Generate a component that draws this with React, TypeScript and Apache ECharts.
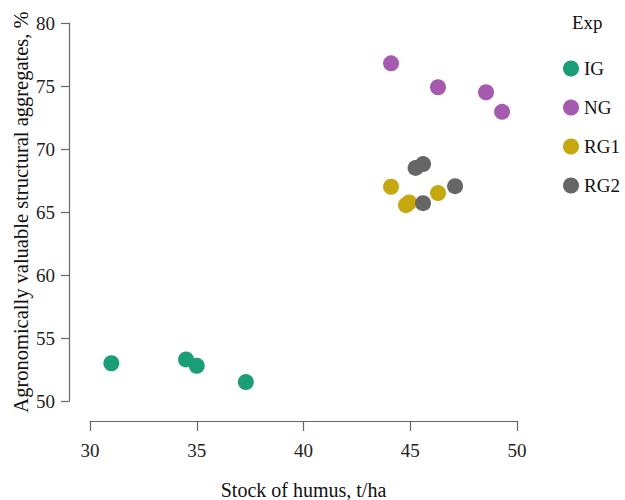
import React, { useEffect, useRef } from "react";
import * as echarts from "echarts";

const groups = ["IG", "NG", "RG1", "RG2"];
const colors = ["#1b9e77", "#a65aaf", "#c4a80d", "#666666"];
const igPoints = [[31.0, 53.0], [34.5, 53.3], [35.0, 52.8], [37.3, 51.5]];
const ngPoints = [[44.1, 76.8], [46.3, 74.9], [48.55, 74.5], [49.3, 72.95]];
const rg1Points = [[44.1, 67.0], [44.8, 65.55], [44.95, 65.75], [46.3, 66.5]];
const rg2Points = [[45.25, 68.5], [45.6, 68.8], [45.6, 65.7], [47.1, 67.05]];
const allPoints = [igPoints, ngPoints, rg1Points, rg2Points];
const xTicks = [30, 35, 40, 45, 50];
const yTicks = [50, 55, 60, 65, 70, 75, 80];

const FONT = "Liberation Serif";

export default function App() {
  const ref = useRef<HTMLDivElement>(null);
  useEffect(() => {
    if (!ref.current) return;
    const chart = echarts.init(ref.current, null, { renderer: "svg" });
    chart.setOption({
      animation: false,
      backgroundColor: "#ffffff",
      textStyle: { fontFamily: FONT },
      title: {
        text: "Exp",
        left: 567,
        top: 8,
        textStyle: { fontFamily: FONT, fontSize: 19, fontWeight: "normal", color: "#111" },
      },
      legend: {
        orient: "vertical",
        left: 558,
        top: 54,
        itemWidth: 16,
        itemHeight: 16,
        itemGap: 20,
        icon: "circle",
        data: groups,
        textStyle: { fontFamily: FONT, fontSize: 19, color: "#111" },
      },
      grid: {
        left: 90,
        right: 108,
        top: 23,
        bottom: 99,
        containLabel: false,
        outerBoundsMode: "none",
      },
      xAxis: {
        type: "value",
        min: xTicks[0],
        max: xTicks[xTicks.length - 1],
        interval: 5,
        offset: 20,
        name: "Stock of humus, t/ha",
        nameLocation: "middle",
        nameGap: 59,
        nameMoveOverlap: false,
        nameTextStyle: { fontFamily: FONT, fontSize: 20, color: "#111" },
        axisLine: { show: true, lineStyle: { color: "#666", width: 1.2 } },
        axisTick: { show: true, length: 10, lineStyle: { color: "#666", width: 1.2 } },
        axisLabel: { fontFamily: FONT, fontSize: 19, color: "#222", margin: 20 },
        splitLine: { show: false },
      },
      yAxis: {
        type: "value",
        min: yTicks[0],
        max: yTicks[yTicks.length - 1],
        interval: 5,
        offset: 21,
        name: "Agronomically valuable structural aggregates, %",
        nameLocation: "middle",
        nameGap: 38,
        nameMoveOverlap: false,
        nameTextStyle: { fontFamily: FONT, fontSize: 20.5, color: "#111" },
        axisLine: { show: true, lineStyle: { color: "#666", width: 1.2 } },
        axisTick: { show: true, length: 8, lineStyle: { color: "#666", width: 1.2 } },
        axisLabel: { fontFamily: FONT, fontSize: 19, color: "#222", margin: 14 },
        splitLine: { show: false },
      },
      series: groups.map((g, i) => ({
        name: g,
        type: "scatter",
        data: allPoints[i],
        symbol: "circle",
        symbolSize: 16,
        itemStyle: { color: colors[i], opacity: 1 },
      })),
    });
    return () => chart.dispose();
  }, []);
  return (
    <div
      ref={ref}
      style={{ position: "fixed", left: 0, top: 0, width: 625, height: 500, background: "#fff" }}
    />
  );
}
